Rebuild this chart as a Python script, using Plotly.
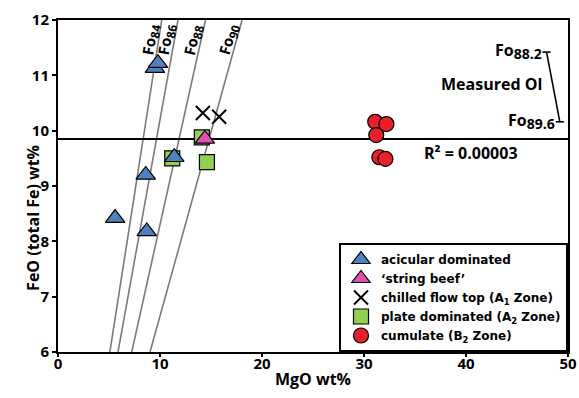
import math
import plotly.graph_objects as go

# ---- data ----
acic_mgo = [9.5, 9.8, 8.6, 5.6, 8.7, 11.4]
acic_feo = [11.13, 11.22, 9.20, 8.42, 8.18, 9.52]

beef_mgo = [14.4]
beef_feo = [9.85]

chill_mgo = [14.2, 15.8]
chill_feo = [10.32, 10.25]

plate_mgo = [11.2, 14.1, 14.6]
plate_feo = [9.50, 9.88, 9.43]

cum_mgo = [31.1, 32.2, 31.2, 31.5, 32.1]
cum_feo = [10.16, 10.12, 9.92, 9.52, 9.49]

fo_labels = ["84", "86", "88", "90"]
fo_ratio = [1.18, 1.02, 0.83, 0.665]   # FeO/MgO of liquid in equilibrium
fo_feo_range = [6, 12]

mean_feo = 9.85
r2_text = "R² = 0.00003"
meas_fo = ["88.2", "89.6"]
meas_feo = [11.42, 10.16]
meas_mgo = [47.9, 49.2]

FONT = "Open Sans"
fig = go.Figure()


def sub(s, px):
    return "<sub><span style='font-size:%dpx'>%s</span></sub>" % (px, s)


# Fo lines
for lab, r in zip(fo_labels, fo_ratio):
    xs = [f / r for f in fo_feo_range]
    fig.add_trace(go.Scatter(x=xs, y=fo_feo_range, mode="lines",
                             line=dict(color="#7a7a7a", width=1.6),
                             showlegend=False, hoverinfo="skip"))
    ang = math.degrees(math.atan(r * (332 / 6) / (510 / 50)))
    yl = 11.64
    fig.add_annotation(x=yl / r - 0.7, y=yl, text="<b>Fo%s</b>" % sub(lab, 12),
                       textangle=-ang, showarrow=False,
                       font=dict(family=FONT, size=15, color="black"))

# mean line
fig.add_trace(go.Scatter(x=[0, 50], y=[mean_feo, mean_feo], mode="lines",
                         line=dict(color="black", width=2),
                         showlegend=False, hoverinfo="skip"))

ol = dict(color="black", width=1.2)
fig.add_trace(go.Scatter(x=plate_mgo, y=plate_feo, mode="markers", name="plate dominated (A<sub>2</sub> Zone)",
                         marker=dict(symbol="square", size=15, color="#92d050", line=ol), legendrank=4))
fig.add_trace(go.Scatter(x=acic_mgo, y=acic_feo, mode="markers", name="acicular dominated",
                         marker=dict(symbol="triangle-up", size=17, color="#4f81bd", line=ol), legendrank=1))
fig.add_trace(go.Scatter(x=beef_mgo, y=beef_feo, mode="markers", name="‘string beef’",
                         marker=dict(symbol="triangle-up", size=17, color="#e050b4", line=ol), legendrank=2))
fig.add_trace(go.Scatter(x=chill_mgo, y=chill_feo, mode="markers", name="chilled flow top (A<sub>1</sub> Zone)",
                         marker=dict(symbol="x-thin", size=14, color="black", line=dict(color="black", width=2)),
                         legendrank=3))
fig.add_trace(go.Scatter(x=cum_mgo, y=cum_feo, mode="markers", name="cumulate (B<sub>2</sub> Zone)",
                         marker=dict(symbol="circle", size=15, color="#e8202a", line=ol), legendrank=5))

# annotations
af = dict(family=FONT, size=16, color="black")
fig.add_annotation(x=40.5, y=9.6, text="<b>%s</b>" % r2_text, showarrow=False, font=af)
fig.add_annotation(x=meas_mgo[0] - 0.3, y=meas_feo[0] + 0.02, text="<b>Fo%s</b>" % sub(meas_fo[0], 14),
                   showarrow=False, xanchor="right", yanchor="middle", font=af)
fig.add_annotation(x=meas_mgo[1] - 0.3, y=meas_feo[1] + 0.02, text="<b>Fo%s</b>" % sub(meas_fo[1], 14),
                   showarrow=False, xanchor="right", yanchor="middle", font=af)
fig.add_annotation(x=47.6, y=(meas_feo[0] + meas_feo[1]) / 2 + 0.05, text="<b>Measured Ol</b>",
                   showarrow=False, xanchor="right", yanchor="middle", font=af)
fig.add_shape(type="line", x0=meas_mgo[0], y0=meas_feo[0], x1=meas_mgo[1], y1=meas_feo[1],
              line=dict(color="black", width=1.6))
for mx, my in zip(meas_mgo, meas_feo):
    fig.add_shape(type="line", x0=mx - 0.4, y0=my, x1=mx + 0.4, y1=my,
                  line=dict(color="black", width=1.6))

# y-axis title (placed like the reference, slightly below centre)
fig.add_annotation(xref="paper", yref="paper", x=-0.0745, y=0.404, text="<b>FeO (total Fe) wt%</b>",
                   textangle=-90, showarrow=False, font=dict(family=FONT, size=16, color="black"))

fig.update_layout(
    width=579, height=398,
    margin=dict(l=58, r=11, t=20, b=46),
    plot_bgcolor="white", paper_bgcolor="white",
    font=dict(family=FONT, color="black"),
    legend=dict(x=1, y=0, xanchor="right", yanchor="bottom",
                bordercolor="black", borderwidth=2, bgcolor="white",
                font=dict(family="DejaVu Sans", size=12, color="black", weight="bold"),
                tracegroupgap=0, itemwidth=30),
)
fig.update_xaxes(range=[0, 50], dtick=10, showgrid=False, zeroline=False, automargin=False,
                 showline=True, linecolor="black", linewidth=2, mirror=True,
                 ticks="outside", ticklen=3, tickcolor="black", tickwidth=1.5,
                 ticklabelstandoff=-6,
                 tickfont=dict(family=FONT, size=15, weight="bold"),
                 title=dict(text="<b>MgO wt%</b>", font=dict(family=FONT, size=16), standoff=2))
fig.update_yaxes(range=[6, 12], dtick=1, showgrid=False, zeroline=False, automargin=False,
                 showline=True, linecolor="black", linewidth=2, mirror=True,
                 ticks="outside", ticklen=4, tickcolor="black", tickwidth=1.5,
                 tickfont=dict(family=FONT, size=15, weight="bold"))

fig.write_html("out.html", config={"displayModeBar": False},
               post_script="document.body.style.margin='0';document.body.style.overflow='hidden';")
